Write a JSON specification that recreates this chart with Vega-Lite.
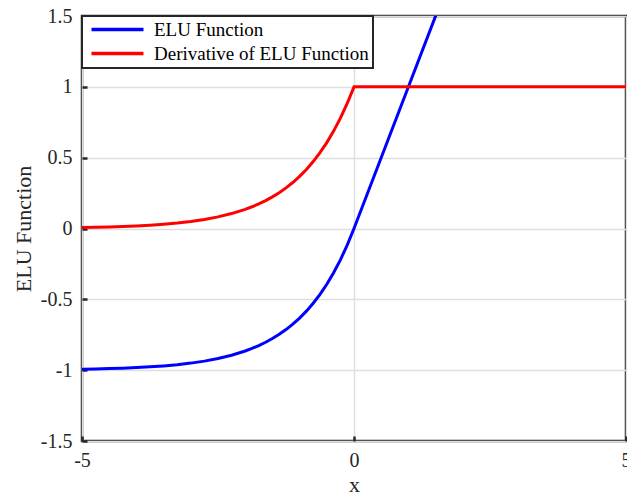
{
  "$schema": "https://vega.github.io/schema/vega-lite/v6.json",
  "width": 544,
  "height": 425,
  "autosize": {"type": "none"},
  "padding": {"left": 82, "top": 16, "right": 1, "bottom": 56},
  "background": "white",
  "data": {"values": [
    {"x": -5, "ELU Function": -0.993262, "Derivative of ELU Function": 0.006738},
    {"x": -4.75, "ELU Function": -0.991348, "Derivative of ELU Function": 0.008652},
    {"x": -4.5, "ELU Function": -0.988891, "Derivative of ELU Function": 0.011109},
    {"x": -4.25, "ELU Function": -0.985736, "Derivative of ELU Function": 0.014264},
    {"x": -4, "ELU Function": -0.981684, "Derivative of ELU Function": 0.018316},
    {"x": -3.75, "ELU Function": -0.976482, "Derivative of ELU Function": 0.023518},
    {"x": -3.5, "ELU Function": -0.969803, "Derivative of ELU Function": 0.030197},
    {"x": -3.25, "ELU Function": -0.961226, "Derivative of ELU Function": 0.038774},
    {"x": -3, "ELU Function": -0.950213, "Derivative of ELU Function": 0.049787},
    {"x": -2.75, "ELU Function": -0.936072, "Derivative of ELU Function": 0.063928},
    {"x": -2.5, "ELU Function": -0.917915, "Derivative of ELU Function": 0.082085},
    {"x": -2.25, "ELU Function": -0.894601, "Derivative of ELU Function": 0.105399},
    {"x": -2, "ELU Function": -0.864665, "Derivative of ELU Function": 0.135335},
    {"x": -1.875, "ELU Function": -0.846645, "Derivative of ELU Function": 0.153355},
    {"x": -1.75, "ELU Function": -0.826226, "Derivative of ELU Function": 0.173774},
    {"x": -1.625, "ELU Function": -0.803088, "Derivative of ELU Function": 0.196912},
    {"x": -1.5, "ELU Function": -0.77687, "Derivative of ELU Function": 0.22313},
    {"x": -1.375, "ELU Function": -0.74716, "Derivative of ELU Function": 0.25284},
    {"x": -1.25, "ELU Function": -0.713495, "Derivative of ELU Function": 0.286505},
    {"x": -1.125, "ELU Function": -0.675348, "Derivative of ELU Function": 0.324652},
    {"x": -1, "ELU Function": -0.632121, "Derivative of ELU Function": 0.367879},
    {"x": -0.875, "ELU Function": -0.583138, "Derivative of ELU Function": 0.416862},
    {"x": -0.75, "ELU Function": -0.527633, "Derivative of ELU Function": 0.472367},
    {"x": -0.625, "ELU Function": -0.464739, "Derivative of ELU Function": 0.535261},
    {"x": -0.5, "ELU Function": -0.393469, "Derivative of ELU Function": 0.606531},
    {"x": -0.375, "ELU Function": -0.312711, "Derivative of ELU Function": 0.687289},
    {"x": -0.25, "ELU Function": -0.221199, "Derivative of ELU Function": 0.778801},
    {"x": -0.125, "ELU Function": -0.117503, "Derivative of ELU Function": 0.882497},
    {"x": 0, "ELU Function": 0, "Derivative of ELU Function": 1},
    {"x": 5, "ELU Function": 5, "Derivative of ELU Function": 1}
  ]},
  "transform": [
    {"fold": ["ELU Function", "Derivative of ELU Function"], "as": ["series", "y"]}
  ],
  "mark": {"type": "line", "strokeWidth": 3, "clip": true},
  "encoding": {
    "x": {
      "field": "x", "type": "quantitative",
      "scale": {"domain": [-5, 5], "nice": false, "zero": false},
      "axis": {
        "title": "x", "values": [-5, 0, 5], "labelExpr": "'' + datum.value",
        "grid": true, "tickSize": -5, "labelPadding": 14, "titlePadding": 4, "labelFlush": false,
        "labelFont": "Liberation Serif", "labelFontSize": 20, "labelColor": "#262626",
        "titleFont": "Liberation Serif", "titleFontSize": 22, "titleFontWeight": "normal", "titleColor": "#262626"
      }
    },
    "y": {
      "field": "y", "type": "quantitative",
      "scale": {"domain": [-1.5, 1.5], "nice": false, "zero": false},
      "axis": {
        "title": "ELU Function", "values": [-1.5, -1, -0.5, 0, 0.5, 1, 1.5], "labelExpr": "'' + datum.value",
        "grid": true, "tickSize": -5, "labelPadding": 15, "titlePadding": 5,
        "labelFont": "Liberation Serif", "labelFontSize": 20, "labelColor": "#262626",
        "titleFont": "Liberation Serif", "titleFontSize": 22, "titleFontWeight": "normal", "titleColor": "#262626"
      }
    },
    "color": {
      "field": "series", "type": "nominal",
      "scale": {"domain": ["ELU Function", "Derivative of ELU Function"], "range": ["#0000ff", "#ff0000"]},
      "legend": {
        "title": null, "orient": "top-left", "offset": 0,
        "symbolType": "M-0.8,0H9.6", "symbolSize": 100, "symbolStrokeWidth": 3.5,
        "labelFont": "Liberation Serif", "labelFontSize": 19, "labelColor": "#000000", "labelLimit": 0,
        "labelOffset": 49, "rowPadding": 4, "padding": 4,
        "fillColor": "white", "strokeColor": "#262626",
        "encode": {"legend": {"update": {"strokeWidth": {"value": 2}}}}
      }
    }
  },
  "config": {
    "view": {"stroke": "#262626", "strokeWidth": 2.5},
    "axis": {
      "domain": false, "gridColor": "#dedede", "gridWidth": 1.5, "gridOpacity": 1,
      "tickColor": "#262626", "tickWidth": 2.5
    }
  }
}
